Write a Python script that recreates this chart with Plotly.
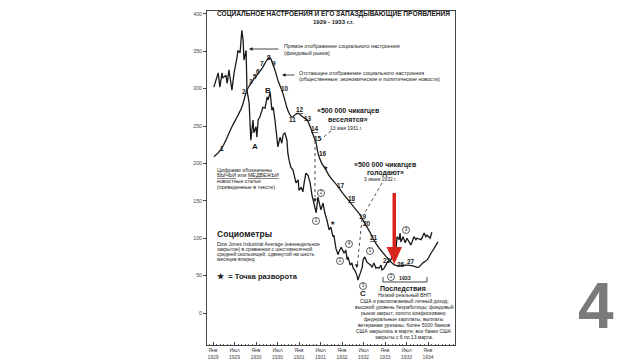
import plotly.graph_objects as go

# ---------------- data ----------------
dow_year = [1929.02,1929.12,1929.16,1929.21,1929.23,1929.30,1929.33,1929.37,1929.44,1929.49,
            1929.56,1929.58,1929.63,1929.67,1929.70,1929.72,1929.77,1929.79,1929.84,1929.88,
            1929.93,1929.95,1930.00,1930.02,1930.05,1930.09,1930.14,1930.16,1930.21,1930.26,
            1930.28,1930.33,1930.37,1930.40,1930.44,1930.49,1930.51,1930.56,1930.60,1930.63,
            1930.67,1930.72,1930.74,1930.77,1930.81,1930.86,1930.88,1930.93,1930.98,1931.00,
            1931.05,1931.09,1931.12,1931.16,1931.21,1931.26,1931.30,1931.33,1931.37,1931.40,
            1931.44,1931.51,1931.56,1931.60,1931.65,1931.70,1931.74,1931.79,1931.81,1931.86,
            1931.91,1931.93,1931.98,1932.05,1932.09,1932.12,1932.14,1932.19,1932.23,1932.26,
            1932.30,1932.35,1932.37,1932.42,1932.47,1932.49,1932.53,1932.58,1932.60,1932.67,
            1932.70,1932.74,1932.79,1932.81,1932.86,1932.91,1932.93,1932.98,1933.02,1933.05,
            1933.14,1933.16,1933.21,1933.26,1933.28,1933.33,1933.35,1933.37,1933.42,1933.47,
            1933.51,1933.56,1933.60,1933.63,1933.67,1933.72,1933.74,1933.84,1933.91,1933.95,
            1933.98,1934.05,1934.07,1934.09]
dow_value = [302,321,302,321,314,318,307,325,298,321,
             342,351,348,378,365,338,351,298,281,231,
             258,241,249,235,258,262,271,275,274,289,
             285,295,271,275,258,235,222,235,227,238,
             241,231,214,204,195,191,187,174,178,164,
             168,162,174,187,184,174,158,151,142,134,
             155,138,147,134,124,111,115,102,104,86,
             78,82,88,80,84,71,75,64,67,60,
             57,50,44,53,61,71,75,68,67,64,
             61,67,60,61,60,64,57,60,64,68,
             71,75,84,88,102,98,107,95,102,94,
             100,95,91,95,102,98,100,98,107,102,
             104,100,107,108]

ma_year = [1929.02,1929.12,1929.21,1929.33,1929.44,1929.56,1929.67,1929.74,1929.79,1929.86,
           1929.93,1930.02,1930.14,1930.21,1930.28,1930.33,1930.37,1930.44,1930.51,1930.60,
           1930.67,1930.74,1930.84,1930.91,1930.98,1931.09,1931.19,1931.26,1931.33,1931.40,
           1931.44,1931.53,1931.60,1931.72,1931.88,1932.02,1932.19,1932.30,1932.42,1932.53,
           1932.65,1932.72,1932.81,1932.93,1933.05,1933.16,1933.23,1933.35,1933.51,1933.65,
           1933.77,1933.88,1933.98,1934.05,1934.16,1934.23]
ma_value = [209,214,221,235,249,262,275,289,298,305,
            311,318,327,334,340,341,336,325,311,298,
            285,271,262,265,267,262,258,249,238,227,
            214,200,194,182,171,160,148,140,131,120,
            108,100,91,82,74,67,64,63,64,63,
            61,67,71,78,88,95]

tick_vals = [1929, 1929.5, 1930, 1930.5, 1931, 1931.5, 1932, 1932.5, 1933, 1933.5, 1934]
tick_text = ["Янв<br>1929", "Июл<br>1929", "Янв<br>1930", "Июл<br>1930", "Янв<br>1931",
             "Июл<br>1931", "Янв<br>1932", "Июл<br>1932", "Янв<br>1933", "Июл<br>1933",
             "Янв<br>1934"]
y_ticks = [0, 50, 100, 150, 200, 250, 300, 350, 400]

# circled news markers on the Dow line (label digit)
circ_digits = ["1", "2", "2", "4", "3", "1", "2", "3"]

# ---------------- helpers (pixel -> axis units, layout only) ----------------
def X(px):
    return 1929 + (px - 213) / 43.0

def Y(py):
    return (313 - py) / 0.748

L, R, T, B = 207, 455, 11, 345

def PX(px):
    return (px - L) / float(R - L)

def PY(py):
    return (B - py) / float(B - T)

FONT = "Liberation Sans, Arial, sans-serif"
INK = "#1a1a1a"

fig = go.Figure()
fig.add_trace(go.Scatter(x=ma_year, y=ma_value, mode="lines", line=dict(color=INK, width=1.3),
                         line_shape="spline", hoverinfo="skip", showlegend=False))
fig.add_trace(go.Scatter(x=dow_year, y=dow_value, mode="lines", line=dict(color=INK, width=1.3),
                         hoverinfo="skip", showlegend=False))

circ_pos = [(316, 221), (321, 193), (340, 261), (349, 244),
            (363, 286), (370, 251), (391, 277), (406, 230)]
fig.add_trace(go.Scatter(x=[X(p[0]) for p in circ_pos], y=[Y(p[1]) for p in circ_pos],
                         mode="markers+text", text=circ_digits, textposition="middle center",
                         textfont=dict(family=FONT, size=4.6, color=INK),
                         marker=dict(symbol="circle", size=7, color="white",
                                     line=dict(color=INK, width=0.7)),
                         hoverinfo="skip", showlegend=False, cliponaxis=False))

ann = []

def txt(px, py, s, size=5.2, bold=False, anchor="left", color=INK):
    if bold:
        s = "<b>" + s + "</b>"
    ann.append(dict(x=PX(px), y=PY(py), xref="paper", yref="paper", text=s, showarrow=False,
                    xanchor=anchor, yanchor="middle",
                    font=dict(family=FONT, size=size, color=color)))

def arrow(tip, tail):
    ann.append(dict(x=PX(tip[0]), y=PY(tip[1]), ax=tail[0] - tip[0], ay=tail[1] - tip[1],
                    xref="paper", yref="paper", axref="pixel", ayref="pixel",
                    showarrow=True, arrowhead=2, arrowsize=0.9, arrowwidth=0.8,
                    arrowcolor=INK, text=""))

# title
txt(333, 14, "СОЦИАЛЬНОЕ НАСТРОЕНИЯ И ЕГО ЗАПАЗДЫВАЮЩИЕ ПРОЯВЛЕНИЯ", 6.6, True, "center")
txt(333, 21.5, "1929 - 1933 г.г.", 6.0, True, "center")

# descriptions with arrows
txt(282, 46, "Прямое отображение социального настроения", 5.3)
txt(282, 53, "(фондовый рынок)", 5.3)
txt(297, 72.5, "Отстающее отображение социального настроения", 5.3)
txt(297, 79, "(общественные, экономические и политические новости)", 5.3)
arrow((249, 49), (280, 49))
arrow((282, 75), (296, 75))

# quotes
txt(348, 111, "«500 000 чикагцев", 7.0, True, "center")
txt(348, 119, "веселятся»", 7.0, True, "center")
txt(346, 128, "13 мая 1931 г.", 5.0, False, "center")
txt(385, 165, "«500 000 чикагцев", 7.0, True, "center")
txt(385, 173, "голодают»", 7.0, True, "center")
txt(380, 179.5, "3 июня 1932 г.", 5.0, False, "center")

# left notes
txt(215, 169.5, "Цифрами обозначены", 5.3)
txt(215, 175.3, "<u>БЫЧЬИ</u> или <u>МЕДВЕЖЬИ</u>", 5.3)
txt(215, 181.2, "новостные статьи", 5.3)
txt(215, 187.2, "(приведенные в тексте)", 5.3)
txt(215, 234, "Социометры", 8.6, True)
txt(215, 244.3, "Dow Jones Industrial Average (еженедельное", 5.0)
txt(215, 249.3, "закрытие) в сравнении с шестимесячной", 5.0)
txt(215, 254.2, "средней скользящей, сдвинутой на шесть", 5.0)
txt(215, 259.1, "месяцев вперед", 5.0)
txt(215, 276.5, "★  = Точка разворота", 7.6, True)

# consequences
txt(403, 288.5, "Последствия", 7.0, True, "center")
cons = ["Низкий реальный ВНП", "США и располагаемый личный доход;",
        "высокий уровень безработицы; фондовый", "рынок закрыт; золото конфисковано;",
        "федеральные зарплаты, выплаты", "ветеранам урезаны; более 5000 банков",
        "США закрылись в марте; все банки США", "закрыты с 6 по 13 марта."]
for i, s in enumerate(cons):
    txt(404, 294.5 + i * 6.05, s, 5.0, False, "center")

# 1933 bracket label
txt(405, 278.3, "1933", 5.2, True, "center")

# numbered news labels along lagging curve
labels = [(222, 148, "1"), (244, 92, "2"), (251, 82, "3"), (255, 76, "5"), (258, 71, "6"),
          (262, 64, "7"), (268.5, 57.5, "8"), (274, 64, "9"), (285, 88, "10"),
          (292, 119.5, "11"), (300, 110, "<u>12</u>"), (308, 118, "13"), (315, 128, "<u>14</u>"),
          (317.5, 138, "15"), (322.5, 153, "16"), (341, 185, "17"), (352, 198.5, "<u>18</u>"),
          (363, 216.5, "19"), (366.5, 223.5, "20"), (373.5, 237, "<u>21</u>"),
          (387, 260, "22"), (401, 264, "26"), (411, 261, "27")]
for px, py, s in labels:
    txt(px, py, s, 6.4, True, "center")

# stars
for px, py in [(332, 223), (325, 168)]:
    txt(px, py, "★", 6, False, "center")

# letters
txt(255, 146, "A", 8, True, "center")
txt(268, 90, "B", 8, True, "center")
txt(363, 293, "C", 8, True, "center")

# arrow heads for dotted lines
arrow((315, 202), (315, 197))
arrow((357, 268), (356.6, 263))

# slide number
ann.append(dict(x=PX(596), y=PY(306), xref="paper", yref="paper", text="<b>4</b>", showarrow=False,
                xanchor="center", yanchor="middle",
                font=dict(family="Liberation Sans, Arial", size=64, color="#7a7a7a")))

shapes = []

def dline(p0, p1, dash="dot", w=0.8, color=INK):
    shapes.append(dict(type="line", xref="paper", yref="paper", x0=PX(p0[0]), y0=PY(p0[1]),
                       x1=PX(p1[0]), y1=PY(p1[1]), line=dict(color=color, width=w, dash=dash)))

dline((331, 131), (319, 141))
dline((315, 141), (315, 197))
dline((382, 183), (364, 214))
dline((362, 219), (357.5, 264))
# 1933 bracket
dline((383, 282), (427, 282), "solid", 0.8)
dline((383, 277), (383, 282), "solid", 0.8)
dline((427, 277), (427, 282), "solid", 0.8)

# red arrow
RED = "#d8261f"
shapes.append(dict(type="rect", xref="paper", yref="paper", x0=PX(392.5), x1=PX(396),
                   y0=PY(193), y1=PY(249), fillcolor=RED, line=dict(width=0)))
shapes.append(dict(type="path", xref="paper", yref="paper",
                   path="M {:.5f},{:.5f} L {:.5f},{:.5f} L {:.5f},{:.5f} Z".format(
                       PX(386.5), PY(247), PX(402), PY(247), PX(394.3), PY(264)),
                   fillcolor=RED, line=dict(width=0)))

fig.update_layout(
    width=640, height=360,
    margin=dict(l=L, r=640 - R, t=T, b=360 - B, autoexpand=False),
    paper_bgcolor="white", plot_bgcolor="white",
    annotations=ann, shapes=shapes,
    showlegend=False,
    xaxis=dict(range=[X(L), X(R)], tickvals=tick_vals, ticktext=tick_text, automargin=False,
               showline=True, mirror=True, linecolor="#444", linewidth=1,
               ticks="inside", ticklen=3, tickcolor="#444", showgrid=False, zeroline=False,
               ticklabelstandoff=0,
               tickfont=dict(family=FONT, size=5.0, color="#444"),
               minor=dict(dtick=1 / 12.0, tick0=1929, ticks="inside", ticklen=1.5, tickcolor="#666"),
               fixedrange=True),
    yaxis=dict(range=[Y(B), Y(T)], tickvals=y_ticks, automargin=False,
               showline=True, mirror=True, linecolor="#444", linewidth=1,
               ticks="outside", ticklen=3, tickcolor="#444", showgrid=False, zeroline=False,
               tickfont=dict(family=FONT, size=5.2, color="#444"), fixedrange=True),
)

fig.write_html("out.html")
